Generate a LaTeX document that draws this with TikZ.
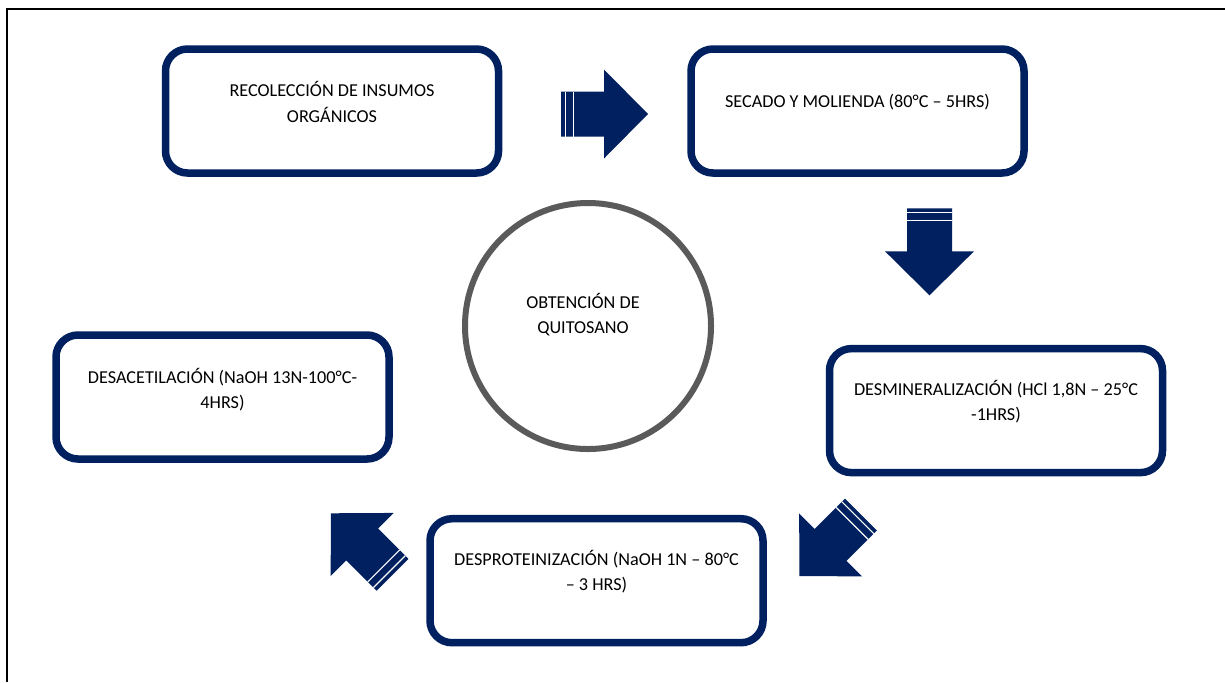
\documentclass[tikz,border=0pt]{standalone}
\usepackage{fontspec}
\setmainfont{Carlito}
\definecolor{navy}{HTML}{002060}
\definecolor{ringgray}{HTML}{5A5A5A}
\newcommand{\stripedarrow}[3]{%
  \begin{scope}[shift={(#1,#2)}, rotate=#3]
    \fill[navy] (0,-22.5) -- (43,-22.5) -- (43,-44.5) -- (87,0) -- (43,44.5) -- (43,22.5) -- (0,22.5) -- cycle;
    \draw[white, line width=0.6pt] (4.5,-22.5) -- (4.5,22.5) (12.5,-22.5) -- (12.5,22.5);
  \end{scope}}
\begin{document}
\begin{tikzpicture}[x=0.5pt,y=-0.5pt,
  stepbox/.style={draw=navy, line width=3.75pt, rounded corners=11pt, minimum width=166.5pt, minimum height=62pt, inner sep=0pt},
  boxtext/.style={align=center, font=\fontsize{9.1}{12.6}\selectfont, inner sep=0pt},
  ring/.style={draw=ringgray, line width=3pt, circle, minimum size=123pt, inner sep=0pt}]
\useasboundingbox (0,0) rectangle (1225,682);
\draw[line width=1pt] (7,682) -- (7,9) -- (1225,9);
% boxes
\node[stepbox] (b1) at (332,111) {};
\node[stepbox] (b2) at (857.5,111) {};
\node[stepbox] (b3) at (996,410.6) {};
\node[stepbox] (b4) at (596.5,580.7) {};
\node[stepbox] (b5) at (222.5,397) {};
\node[boxtext] (t1) at ([yshift=4.5pt]b1.center) {RECOLECCIÓN DE INSUMOS\\ORGÁNICOS};
\node[boxtext] (t2) at ([yshift=4.5pt]b2.center) {SECADO Y MOLIENDA (80°C – 5HRS)};
\node[boxtext] (t3) at ([yshift=4.5pt]b3.center) {DESMINERALIZACIÓN (HCl 1,8N – 25°C\\-1HRS)};
\node[boxtext] (t4) at ([yshift=4.5pt]b4.center) {DESPROTEINIZACIÓN (NaOH 1N – 80°C\\– 3 HRS)};
\node[boxtext] (t5) at ([yshift=3.5pt]b5.center) {DESACETILACIÓN (NaOH 13N-100°C-\\4HRS)};
% circle
\node[ring] (c) at (588,326) {};
\node[boxtext] (ct) at (583,314.5) {OBTENCIÓN DE\\QUITOSANO};
% arrows
\stripedarrow{561}{114}{0}
\stripedarrow{929.5}{208.3}{-90}
\stripedarrow{861}{514.5}{225}
\stripedarrow{392.5}{574.8}{135}
\end{tikzpicture}
\end{document}
